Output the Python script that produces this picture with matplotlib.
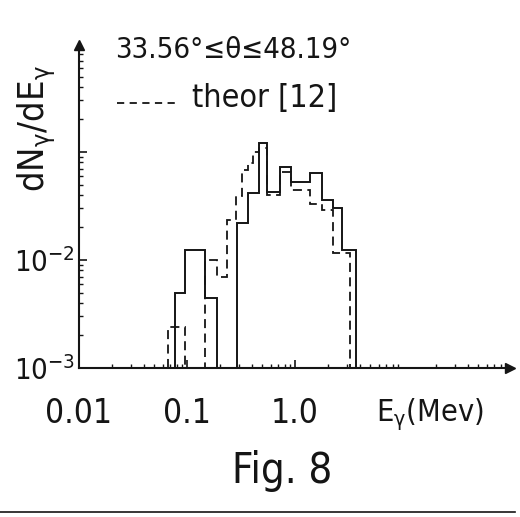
import numpy as np
import matplotlib
matplotlib.use("Agg")
import matplotlib.pyplot as plt
from matplotlib.lines import Line2D

# solid histogram (measured)
solid_edges = [0.0774, 0.0958, 0.147, 0.190, 0.290, 0.367, 0.466, 0.548,
               0.726, 0.918, 1.377, 1.78, 2.25, 2.72, 3.67]
solid_vals = [4.95e-3, 1.24e-2, 4.45e-3, 1e-3, 2.2e-2, 4.17e-2, 0.121,
              4.26e-2, 7.26e-2, 5.27e-2, 6.39e-2, 3.59e-2, 3.03e-2, 1.24e-2]

# dashed histogram (theor [12])
theor_edges = [0.0667, 0.0958, 0.147, 0.190, 0.237, 0.287, 0.320, 0.368,
               0.410, 0.466, 0.548, 0.726, 0.918, 1.377, 1.78, 2.25, 3.23]
theor_vals = [2.4e-3, 1e-3, 1.0e-2, 6.96e-3, 2.35e-2, 3.9e-2, 6.8e-2,
              7.9e-2, 0.1, 0.108, 4.0e-2, 6.5e-2, 4.45e-2, 3.3e-2, 2.9e-2,
              1.16e-2]

x_ticks = [0.01, 0.1, 1.0]
x_ticklabels = ["0.01", "0.1", "1.0"]
y_ticks = [1e-3, 1e-2, 1e-1]
y_ticklabels = [r"$10^{-3}$", r"$10^{-2}$", ""]

plt.rcParams["font.family"] = ["DejaVu Sans"]
plt.rcParams["font.stretch"] = "condensed"
plt.rcParams["mathtext.fontset"] = "custom"
plt.rcParams["mathtext.rm"] = "DejaVu Sans:stretch=condensed"
plt.rcParams["mathtext.it"] = "DejaVu Sans:stretch=condensed"

W, H = 520, 517
INK = "#151515"
fig = plt.figure(figsize=(W / 100, H / 100), dpi=100)

def fx(px):
    return px / W

def fy(py):
    return 1 - py / H

# axes: y axis at x=79, x axis at y=368, one decade ~108 px
ax = fig.add_axes([fx(79), fy(368), fx(510 - 79), (368 - 45) / H])
ax.set_xscale("log")
ax.set_yscale("log")
ax.set_xlim(0.01, 10 ** (-2 + 431 / 108))
ax.set_ylim(1e-3, 10 ** (-3 + 323 / 108))

ax.stairs(solid_vals, solid_edges, baseline=1e-3, color=INK, lw=1.4)
ax.stairs(theor_vals, theor_edges, baseline=1e-3, color=INK, lw=1.3,
          linestyle=(0, (5, 3)))

for s in ["top", "right"]:
    ax.spines[s].set_visible(False)
for s in ["left", "bottom"]:
    ax.spines[s].set_color(INK)
    ax.spines[s].set_linewidth(1.5)

# arrow heads
ax.plot(1, 0, ">", transform=ax.transAxes, color=INK, ms=7, clip_on=False)
ax.plot(0, 1, "^", transform=ax.transAxes, color=INK, ms=7, clip_on=False)

ax.set_xticks(x_ticks)
ax.set_xticklabels(x_ticklabels)
ax.set_yticks(y_ticks)
ax.set_yticklabels(y_ticklabels)
ax.tick_params(which="major", direction="in", length=6, width=1.2, color=INK,
               labelcolor=INK)
ax.tick_params(axis="x", which="major", pad=21, labelsize=24)
ax.tick_params(axis="y", which="major", pad=3, labelsize=21)
ax.tick_params(which="minor", direction="in", length=3, width=1.0, color=INK)
ax.yaxis.set_minor_formatter(plt.NullFormatter())
ax.xaxis.set_minor_formatter(plt.NullFormatter())

# texts
fig.text(fx(115), fy(50), "33.56°≤θ≤48.19°", fontsize=21, color=INK,
         ha="left", va="center")
fig.add_artist(Line2D([fx(117), fx(178)], [fy(103), fy(103)], color=INK,
                      lw=1.3, linestyle=(0, (4, 3))))
fig.text(fx(192), fy(99), "theor [12]", fontsize=23, color=INK,
         ha="left", va="center")
fig.text(fx(37), fy(128), r"dN$_\gamma$/dE$_\gamma$", fontsize=26, color=INK,
         rotation=90, ha="center", va="center")
fig.text(fx(430), fy(414), r"E$_\gamma$(Mev)", fontsize=22, color=INK,
         ha="center", va="center")
fig.text(fx(282), fy(471), "Fig. 8", fontsize=30, color=INK,
         ha="center", va="center")
fig.add_artist(Line2D([fx(0), fx(515)], [fy(512), fy(512)], color=INK, lw=1.2))

fig.savefig("out.png", dpi=100)
